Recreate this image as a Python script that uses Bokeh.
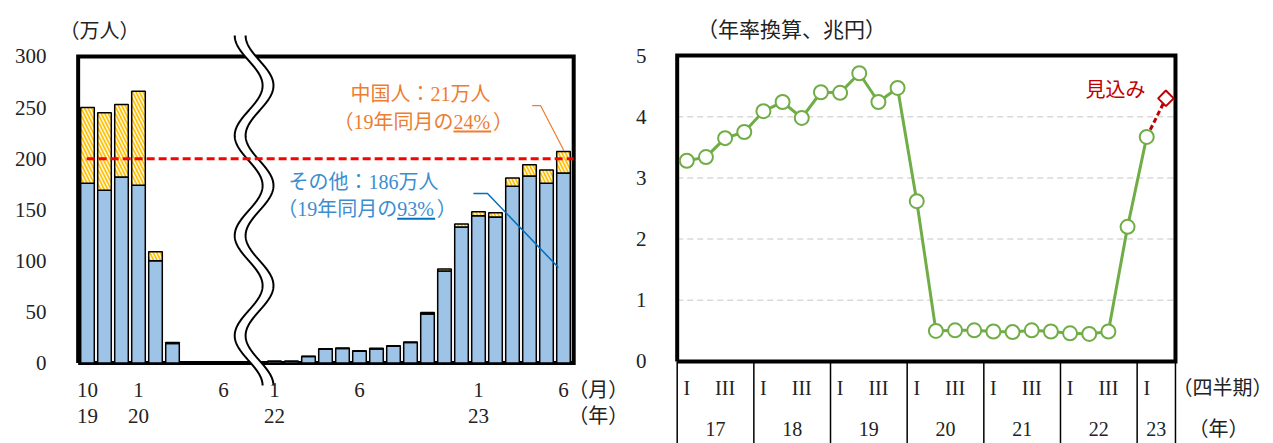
import numpy as np
from bokeh.plotting import figure
from bokeh.layouts import row
from bokeh.models import Range1d
from bokeh.core.properties import value
from bokeh.embed import file_html
from bokeh.resources import INLINE

# ---------------- data ----------------
# Monthly foreign visitors (万人): China and everyone else
months = ["2019-10", "2019-11", "2019-12", "2020-01", "2020-02", "2020-03",
          "2020-04", "2020-05", "2020-06",
          "2022-01", "2022-02", "2022-03", "2022-04", "2022-05", "2022-06",
          "2022-07", "2022-08", "2022-09", "2022-10", "2022-11", "2022-12",
          "2023-01", "2023-02", "2023-03", "2023-04", "2023-05", "2023-06"]
visitors_china = [74, 76, 71, 92, 9, 1,
                  0, 0, 0,
                  0.1, 0.1, 0.2, 0.5, 0.5, 0.5,
                  0.6, 0.5, 0.6, 1.5, 2, 3,
                  4, 4, 8, 11, 13, 21]
visitors_other = [176, 169, 182, 174, 100, 19,
                  0.3, 0.2, 0.3,
                  1.7, 1.6, 6.4, 13.4, 14.2, 11.5,
                  13.8, 16.5, 20, 48, 90, 133,
                  144, 143, 173, 183, 176, 186]
month_tick_at = ["2019-10", "2020-01", "2020-06", "2022-01", "2022-06", "2023-01", "2023-06"]
month_tick_text = ["10", "1", "6", "1", "6", "1", "6"]
year_tick_at = ["2019-10", "2020-01", "2022-01", "2023-01"]
year_tick_text = ["19", "20", "22", "23"]
visitor_ticks = [0, 50, 100, 150, 200, 250, 300]
visitor_reference = 200

# Quarterly inbound spending (annualised, 兆円), 2017 Q1 - 2023 Q1, plus outlook for 2023 Q2
spend_years = ["17", "18", "19", "20", "21", "22", "23"]
spend = [3.28, 3.34, 3.65, 3.75,
         4.09, 4.24, 3.98, 4.40,
         4.39, 4.71, 4.24, 4.47,
         2.62, 0.50, 0.51, 0.51,
         0.49, 0.48, 0.51, 0.49,
         0.46, 0.45, 0.49, 2.20,
         3.67]
spend_outlook = 4.30
spend_ticks = [0, 1, 2, 3, 4, 5]

# ---------------- styles ----------------
FONT = "'Liberation Serif', 'Noto Sans CJK JP', serif"
INK = "#222222"
BLUE_BAR = "#9DC3E6"
GREEN = "#70AD47"
ORANGE = "#ED7D31"
BLUE_TXT = "#3C8DD0"
BLUE_LINE = "#0070C0"
DARK_RED = "#C00000"


def txt(p, xs, ys, texts, size="21px", color=INK, align="center", baseline="middle"):
    p.text(x=list(xs), y=list(ys), text=list(texts), text_font=value(FONT),
           text_font_size=size, text_color=color, text_align=align,
           text_baseline=baseline)


def bare_figure(width, x_range, y_range):
    p = figure(width=width, height=443, output_backend="svg", toolbar_location=None,
               x_range=Range1d(*x_range), y_range=Range1d(*y_range),
               x_axis_location=None, y_axis_location=None, min_border=0,
               background_fill_color="white", border_fill_color="white")
    p.outline_line_color = None
    p.grid.visible = False
    p.title.visible = False
    return p


# ---------------- left: visitors ----------------
GAP_SLOTS = 2   # empty slots where the time axis is broken


def slot(m):
    y, mo = int(m[:4]), int(m[5:])
    if y < 2022:
        return (y - 2019) * 12 + mo - 10
    return 9 + GAP_SLOTS + (y - 2022) * 12 + mo - 1


xs = np.array([slot(m) for m in months], dtype=float)
other = np.array(visitors_other, dtype=float)
china = np.array(visitors_china, dtype=float)

pl = bare_figure(632, (-5.1176, 32.059), (-78.79, 354.8))
XL, XR = -0.55, 28.6

# plot box
pl.line([XL, XL, XR, XR, XL], [0, 300, 300, 0, 0], line_color="black",
        line_width=4, line_join="miter")

pl.vbar(x=xs, width=0.8, bottom=0, top=other, fill_color=BLUE_BAR,
        line_color="black", line_width=1.5)
pl.vbar(x=xs, width=0.8, bottom=other, top=other + china, fill_color="#FFF5D6",
        hatch_pattern="\\", hatch_color="#FFC000", hatch_scale=7, hatch_weight=1.6,
        line_color="black", line_width=1.5)

# axis break (double wavy band)
bc = 9.8
vv = np.linspace(-22, 320.5, 400)
wave = 0.82 * np.cos(2 * np.pi * (320.5 - vv) / 97.9)
left_edge = bc - 0.32 - wave
right_edge = bc + 0.32 - wave
pl.patch(np.concatenate([left_edge, right_edge[::-1]]), np.concatenate([vv, vv[::-1]]),
         fill_color="white", line_color=None)
pl.line(left_edge, vv, line_color="black", line_width=2)
pl.line(right_edge, vv, line_color="black", line_width=2)

# reference level
pl.line([-0.05, XR], [visitor_reference, visitor_reference], line_color="#FF0000",
        line_width=3, line_dash="8 4")

# tick labels
txt(pl, [-2.41] * len(visitor_ticks), visitor_ticks, [str(t) for t in visitor_ticks], align="right")
txt(pl, [slot(m) for m in month_tick_at], [-26.9] * len(month_tick_at), month_tick_text)
txt(pl, [slot(m) for m in year_tick_at], [-51.4] * len(year_tick_at), year_tick_text)
txt(pl, [30.05, 30.05], [-26.9, -51.4], ["（月）", "（年）"], size="20px")
txt(pl, [0.71], [324.5], ["（万人）"], size="20px")

# annotations
last = len(months) - 1
txt(pl, [19.59], [263.5], [f"中国人：{visitors_china[last]:.0f}万人"], size="20px", color=ORANGE)
txt(pl, [21.53], [235.7], ["（19年同月の"], size="20px", color=ORANGE, align="right")
txt(pl, [21.53], [235.7], ["24%"], size="20px", color=ORANGE, align="left")
txt(pl, [23.85], [235.7], ["）"], size="20px", color=ORANGE, align="left")
pl.line([21.53, 23.75], [226.6, 226.6], line_color=ORANGE, line_width=2)
pl.line([26.16, 26.65, 28.02], [252.0, 252.0, 208.0], line_color=ORANGE, line_width=1.2)

txt(pl, [16.24], [177.0], [f"その他：{visitors_other[last]:.0f}万人"], size="20px", color=BLUE_TXT)
txt(pl, [18.22], [150.9], ["（19年同月の"], size="20px", color=BLUE_TXT, align="right")
txt(pl, [18.22], [150.9], ["93%"], size="20px", color=BLUE_TXT, align="left")
txt(pl, [20.55], [150.9], ["）"], size="20px", color=BLUE_TXT, align="left")
pl.line([18.22, 20.45], [141.1, 141.1], line_color=BLUE_LINE, line_width=2)
pl.line([22.7, 23.53, 27.7], [165.9, 165.9, 93.5], line_color=BLUE_LINE, line_width=1.5)

# ---------------- right: spending ----------------
pr = bare_figure(641, (-2.332, 31.115), (-1.340, 5.899))
n_slots = len(spend) + 1
qx = np.arange(len(spend)) + 0.5

for g in spend_ticks[1:-1]:
    pr.line([0, n_slots], [g, g], line_color="#D9D9D9", line_width=1.5, line_dash="6 4")
pr.line([0, 0, n_slots, n_slots, 0], [0, 5, 5, 0, 0], line_color="black",
        line_width=4, line_join="miter")

# category table below the frame
bounds = [4 * i for i in range(len(spend_years))] + [n_slots]
pr.segment(x0=bounds, y0=[0] * len(bounds), x1=bounds, y1=[-1.34] * len(bounds),
           line_color="black", line_width=1.5)
q_lab_x, q_lab = [], []
for i in range(len(spend_years)):
    q_lab_x.append(4 * i + 0.5)
    q_lab.append("I")
    if 4 * i + 2 < len(spend):
        q_lab_x.append(4 * i + 2.5)
        q_lab.append("III")
txt(pr, q_lab_x, [-0.441] * len(q_lab), q_lab, size="20px")
year_mid = [(bounds[i] + bounds[i + 1]) / 2 for i in range(len(spend_years))]
txt(pr, year_mid, [-1.11] * len(spend_years), spend_years, size="20px")
txt(pr, [28.45], [-0.441], ["（四半期）"], size="20px")
txt(pr, [28.24], [-1.11], ["（年）"], size="20px")

# y tick labels and title
txt(pr, [-1.6] * len(spend_ticks), spend_ticks, [str(t) for t in spend_ticks], align="right")
txt(pr, [5.96], [5.41], ["（年率換算、兆円）"], size="21px")

# series
pr.line(qx, spend, line_color=GREEN, line_width=3)
pr.line([qx[-1], qx[-1] + 1], [spend[-1], spend_outlook], line_color=DARK_RED,
        line_width=3, line_dash="5 3")
pr.scatter(qx, spend, marker="circle", size=14, fill_color="white",
           line_color=GREEN, line_width=2)
pr.scatter([qx[-1] + 1], [spend_outlook], marker="square", angle=np.pi / 4, size=11,
           fill_color="white", line_color=DARK_RED, line_width=2)
txt(pr, [22.87], [4.43], ["見込み"], size="20px", color=DARK_RED)

layout = row(pl, pr)
open("out.html", "w").write(file_html(layout, INLINE))
